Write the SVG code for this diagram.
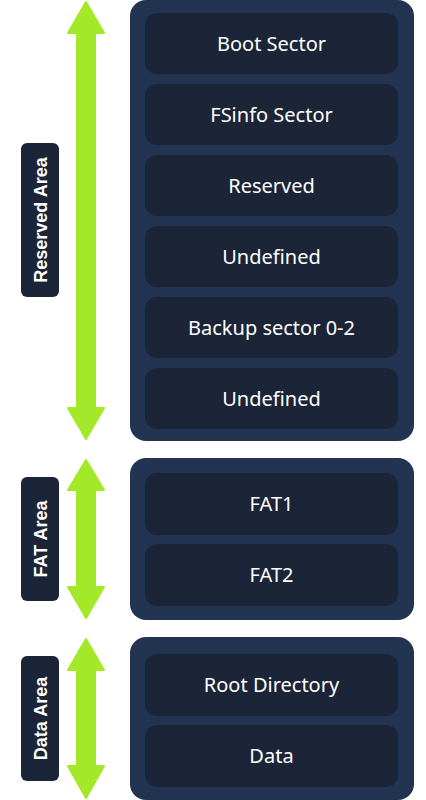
<svg xmlns="http://www.w3.org/2000/svg" width="426" height="800" viewBox="0 0 426 800">
<style>
.outer{fill:#223452}
.inner{fill:#1c2437}
.lbl{fill:#1c2437}
.arrow{fill:#a3e92a;stroke:#a3e92a;stroke-width:2;stroke-linejoin:round}
.t{font-family:"Noto Sans","Open Sans",sans-serif;font-size:20px;fill:#ffffff;text-anchor:middle}
.lt{font-family:"Liberation Sans",Arial,sans-serif;font-size:18px;font-weight:bold;fill:#ffffff;text-anchor:middle}
</style>
<rect width="426" height="800" fill="#ffffff"/>
<g id="connectors">
<polygon class="arrow" points="86,2 104,33 95,33 95,408 104,408 86,439 68,408 77,408 77,33 68,33"/>
<polygon class="arrow" points="86,460 104,490 95,490 95,587 104,587 86,618 68,587 77,587 77,490 68,490"/>
<polygon class="arrow" points="86,639 104,670 95,670 95,766 104,766 86,798 68,766 77,766 77,670 68,670"/>
</g>
<g id="label-reserved">
<rect class="lbl" x="21" y="143" width="38" height="154" rx="6"/>
<text class="lt" transform="translate(46.5,220) rotate(-90)">Reserved Area</text>
</g>
<g id="label-fat">
<rect class="lbl" x="21" y="477" width="38" height="124" rx="6"/>
<text class="lt" transform="translate(46.5,539) rotate(-90)">FAT Area</text>
</g>
<g id="label-data">
<rect class="lbl" x="21" y="656" width="38" height="125" rx="6"/>
<text class="lt" transform="translate(46.5,718.5) rotate(-90)">Data Area</text>
</g>
<g id="reserved-area">
<rect class="outer" x="130" y="0" width="284" height="441" rx="16"/>
</g>
<g id="boot-sector">
<rect class="inner" x="145" y="13" width="253" height="61" rx="12"/>
<text class="t" x="271.5" y="51">Boot Sector</text>
</g>
<g id="fsinfo-sector">
<rect class="inner" x="145" y="84" width="253" height="61" rx="12"/>
<text class="t" x="271.5" y="122">FSinfo Sector</text>
</g>
<g id="reserved">
<rect class="inner" x="145" y="155" width="253" height="61" rx="12"/>
<text class="t" x="271.5" y="193">Reserved</text>
</g>
<g id="undefined-1">
<rect class="inner" x="145" y="226" width="253" height="61" rx="12"/>
<text class="t" x="271.5" y="264">Undefined</text>
</g>
<g id="backup-sector">
<rect class="inner" x="145" y="297" width="253" height="61" rx="12"/>
<text class="t" x="271.5" y="335">Backup sector 0-2</text>
</g>
<g id="undefined-2">
<rect class="inner" x="145" y="368" width="253" height="61" rx="12"/>
<text class="t" x="271.5" y="406">Undefined</text>
</g>
<g id="fat-area">
<rect class="outer" x="130" y="458" width="284" height="162" rx="16"/>
</g>
<g id="fat1">
<rect class="inner" x="145" y="473" width="253" height="62" rx="12"/>
<text class="t" x="271.5" y="511">FAT1</text>
</g>
<g id="fat2">
<rect class="inner" x="145" y="544" width="253" height="62" rx="12"/>
<text class="t" x="271.5" y="582">FAT2</text>
</g>
<g id="data-area">
<rect class="outer" x="130" y="637" width="284" height="163" rx="16"/>
</g>
<g id="root-directory">
<rect class="inner" x="145" y="654" width="253" height="62" rx="12"/>
<text class="t" x="271.5" y="692">Root Directory</text>
</g>
<g id="data">
<rect class="inner" x="145" y="725" width="253" height="62" rx="12"/>
<text class="t" x="271.5" y="763">Data</text>
</g>
</svg>
